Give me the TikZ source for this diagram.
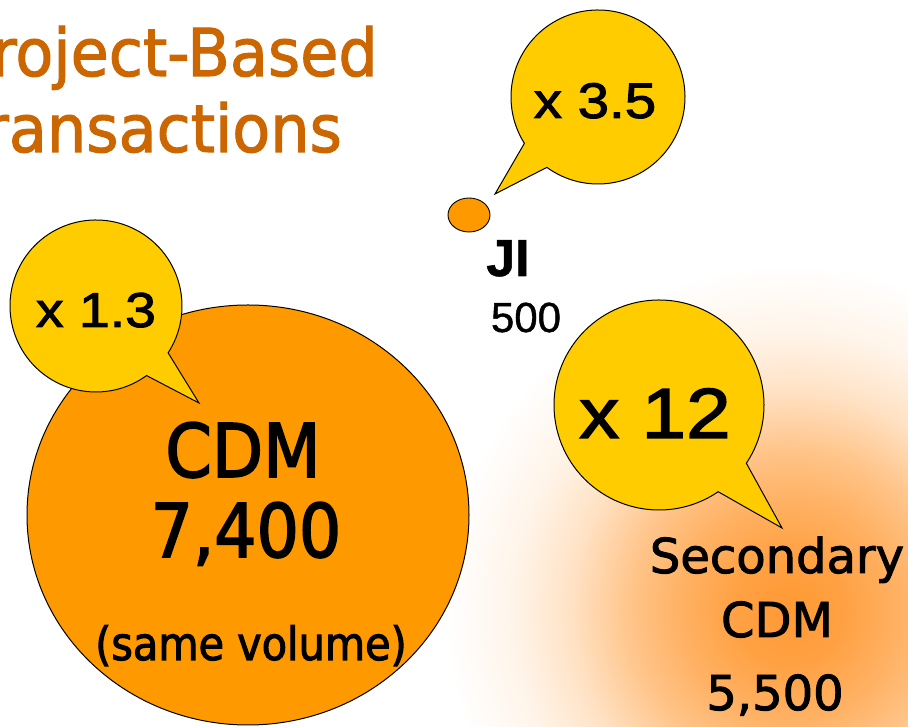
\documentclass[tikz,border=0pt]{standalone}
\usepackage{fontspec}
\setmainfont{DejaVu Sans}
\newfontfamily\tahomafont{DejaVu Sans}[FakeStretch=0.9, FakeBold=2.2]
\newfontfamily\tahomawide{DejaVu Sans}[FakeBold=2]
\newfontfamily\titlefont{DejaVu Sans}[FakeStretch=0.94, FakeBold=1.6]
\newfontfamily\arialwide{Liberation Sans}[FakeStretch=1.13, FakeBold=2]
\newfontfamily\arialfont{Liberation Sans}[FakeBold=1]
\definecolor{cdmorange}{HTML}{FF9900}
\definecolor{bubbleyellow}{HTML}{FFCC00}
\definecolor{titleorange}{HTML}{CC6600}
\definecolor{glowcore}{HTML}{FF9933}
\pgfdeclareradialshading{secglow}{\pgfpoint{0bp}{0bp}}{%
  color(0bp)=(glowcore);
  color(4bp)=(glowcore!92!white);
  color(8bp)=(glowcore!76!white);
  color(11.5bp)=(glowcore!58!white);
  color(16bp)=(glowcore!28!white);
  color(20bp)=(glowcore!11!white);
  color(25bp)=(white);
  color(50bp)=(white)}
\newcommand{\fs}[1]{\fontsize{#1}{#1}\selectfont}
\tikzset{
  bubble/.style={fill=bubbleyellow, draw=black, line width=1pt, line join=miter},
  blob/.style={fill=cdmorange, draw=black, line width=1pt},
  txt/.style={inner sep=0pt, outer sep=0pt, anchor=base, text=black},
  bubbletext/.style={txt},
  titletext/.style={inner sep=0pt, anchor=base east, text=titleorange, font=\titlefont\fs{66}},
}
\begin{document}
\begin{tikzpicture}[x=1pt, y=1pt]
\useasboundingbox (0,0) rectangle (908,727);
\clip (0,0) rectangle (908,727);
\fill[white] (0,0) rectangle (908,727);

% soft glow behind the secondary market
\shade[shading=secglow] (790,117) circle[radius=345];

% title
\node[titletext] (title1) at (378,651) {Project-Based};
\node[titletext] (title2) at (342,575) {Transactions};

% primary CDM volume
\draw[blob] (248,212) ellipse[x radius=221, y radius=210];
\node[txt, font=\tahomafont\fs{74}] (cdm) at (243,250) {CDM};
\node[txt, font=\tahomafont\fs{74}] (cdmval) at (246,170) {7,400};
\node[txt, font=\tahomafont\fs{46}] (cdmnote) at (251,67) {(same volume)};

% JI volume
\draw[blob, line width=0.9pt] (469,512) ellipse[x radius=21, y radius=17];
\node[txt, font=\arialfont\bfseries\fs{52}] (ji) at (508,451) {JI};
\node[txt, font=\arialfont\fs{42}] (jival) at (526,395) {500};

% secondary CDM volume
\node[txt, font=\tahomawide\fs{48}] (sec1) at (777,154) {Secondary};
\node[txt, font=\tahomawide\fs{48}] (sec2) at (777,90) {CDM};
\node[txt, font=\tahomawide\fs{48}] (secval) at (775,17) {5,500};

% speech bubbles with growth factors
\coordinate (tipcdm) at (199,324);
\draw[bubble] (96,421) ++(-33:86) arc[start angle=-33, end angle=306, radius=86] -- (tipcdm) -- cycle;
\node[bubbletext, font=\arialwide\fs{49}] (fcdm) at (96,400) {x 1.3};

\coordinate (tipji) at (495,533);
\draw[bubble] (598,630) ++(234:87) arc[start angle=234, end angle=572.2, radius=87] -- (tipji) -- cycle;
\node[bubbletext, font=\arialwide\fs{50}] (fji) at (595,609) {x 3.5};

\coordinate (tipsec) at (782,199);
\draw[bubble] (659,322) ++(-33.7:105) arc[start angle=-33.7, end angle=304.3, radius=105] -- (tipsec) -- cycle;
\node[bubbletext, font=\arialwide\fs{71}] (fsec) at (655,289) {x 12};
\end{tikzpicture}
\end{document}
